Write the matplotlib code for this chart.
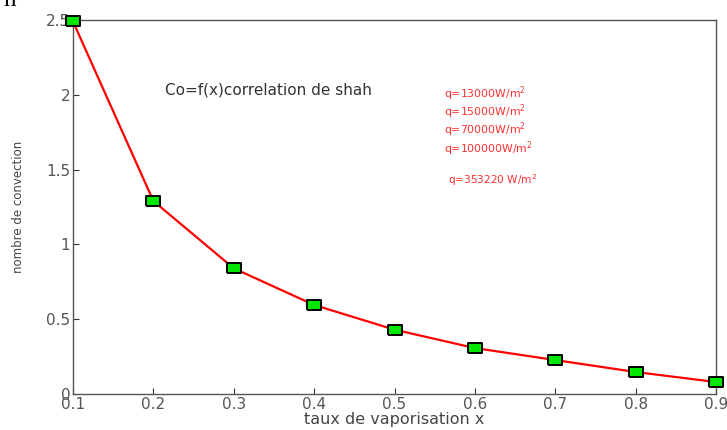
import matplotlib
matplotlib.use("Agg")
import matplotlib.pyplot as plt

plt.rcParams['font.family'] = ['DejaVu Sans']

x = [0.1, 0.2, 0.3, 0.4, 0.5, 0.6, 0.7, 0.8, 0.9]
co = [2.49, 1.29, 0.84, 0.595, 0.43, 0.307, 0.227, 0.147, 0.08]

xticks = [0.1, 0.2, 0.3, 0.4, 0.5, 0.6, 0.7, 0.8, 0.9]
yticks = [0, 0.5, 1, 1.5, 2, 2.5]
ytick_labels = ['0', '0.5', '1', '1.5', '2', '2.5']

flux_labels = ['q=13000W/m$^2$', 'q=15000W/m$^2$', 'q=70000W/m$^2$',
               'q=100000W/m$^2$']
flux_main = 'q=353220 W/m$^2$'

fig = plt.figure(figsize=(7.27, 4.30), dpi=100)
ax = fig.add_axes([0.1004, 0.0837, 0.8846, 0.8698])

rect = [(-1.35, -1), (1.35, -1), (1.35, 1), (-1.35, 1), (-1.35, -1)]
ax.plot(x, co, color='red', lw=1.6, marker=rect, markersize=10.5,
        markerfacecolor='#00e600', markeredgecolor='black', markeredgewidth=1.4,
        clip_on=False, zorder=3)

ax.set_xlim(0.1, 0.9)
ax.set_ylim(0, 2.5)
ax.set_xticks(xticks)
ax.set_xticklabels([str(v) for v in xticks])
ax.set_yticks(yticks)
ax.set_yticklabels(ytick_labels)
ax.tick_params(direction='in', length=4, labelsize=11, colors='#333333',
               labelcolor='#555555', pad=2)
for s in ax.spines.values():
    s.set_color('#555555')
    s.set_linewidth(1.0)

ax.set_xlabel('taux de vaporisation x', fontsize=11.5, color='#444444', labelpad=0)
ax.set_ylabel('nombre de convection', fontsize=8.5, color='#444444', labelpad=15)

ax.text(0.215, 2.03, 'Co=f(x)correlation de shah', fontsize=11, color='#333333',
        va='center')

ys = [2.01, 1.89, 1.77, 1.64]
for lab, yy in zip(flux_labels, ys):
    ax.text(0.562, yy, lab, fontsize=7.8, color='#ff3030', va='center')
ax.text(0.566, 1.43, flux_main, fontsize=7.6, color='#ff3030', va='center')

fig.text(0.004, 1.0, 'n', fontsize=18, family='Liberation Serif',
         va='center', ha='left')

fig.savefig('out.png', dpi=100)
